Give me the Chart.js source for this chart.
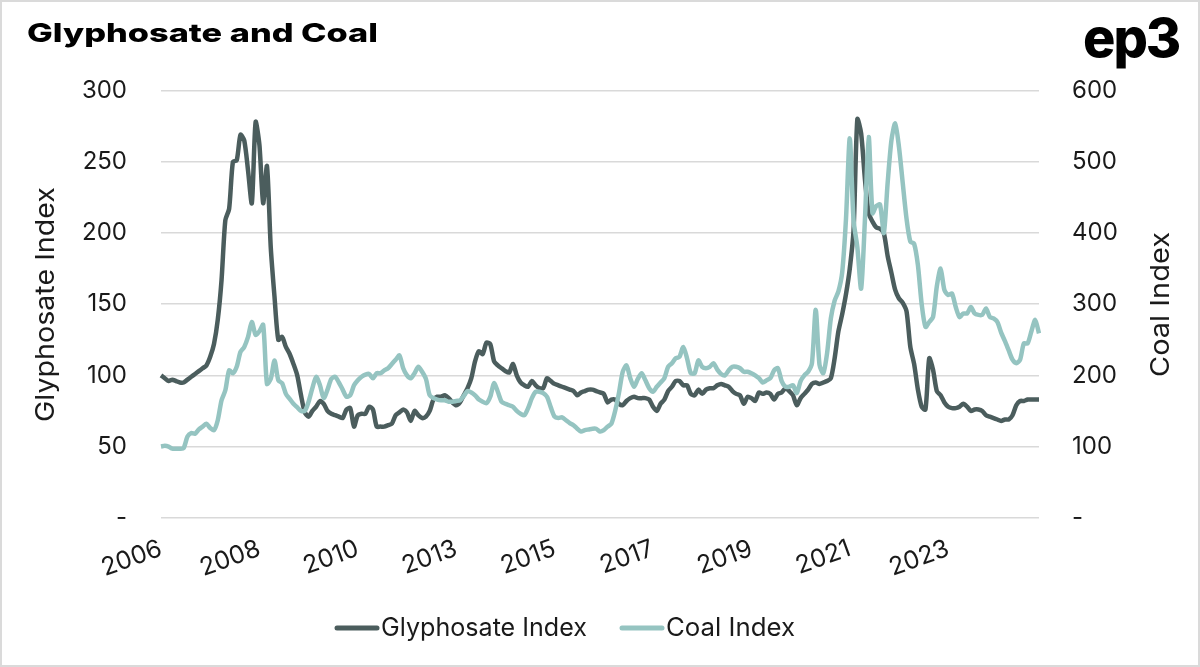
<!DOCTYPE html>
<html>
<head>
<meta charset="utf-8">
<script src="https://cdn.jsdelivr.net/npm/chart.js@4.4.1/dist/chart.umd.min.js"></script>
<style>
  html, body { margin: 0; padding: 0; background: #fff; }
  #wrap { position: relative; width: 1200px; height: 667px; }
  #frame { position: absolute; left: 0; top: 0; width: 1200px; height: 667px; box-sizing: border-box; border: 2px solid #dadada; pointer-events: none; }
  canvas { position: absolute; left: 0; top: 0; }
</style>
</head>
<body>
<div id="wrap">
  <canvas id="chart" width="1200" height="667"></canvas>
  <div id="frame"></div>
</div>
<script>
// monthly series, first point Jul 2006
const startYear = 2006;
const startMonth = 7;

const yearTicks = ['2006', '2008', '2010', '2013', '2015', '2017', '2019', '2021', '2023'];
const tickEvery = 26;

const glyphosate = [
  100, 98, 96, 97, 96, 95, 95, 97, 99, 101,
  103, 105, 107, 113, 122, 139, 167, 209, 217, 250,
  251, 269, 265, 244, 221, 278, 262, 221, 247, 190,
  155, 125, 127, 120, 115, 108, 100, 86, 74, 71,
  75, 78, 82, 80, 75, 73, 72, 71, 70, 76,
  77, 64, 72, 73, 73, 78, 76, 64, 64, 64,
  65, 66, 72, 74, 76, 74, 68, 75, 72, 70,
  71, 75, 83, 85, 85, 86, 84, 81, 79, 81,
  86, 91, 98, 110, 117, 115, 123, 122, 110, 107,
  105, 103, 102, 108, 100, 95, 93, 92, 96, 93,
  91, 91, 98, 96, 94, 93, 92, 91, 90, 89,
  86, 88, 89, 90, 90, 89, 88, 87, 81, 83,
  83, 80, 79, 82, 84, 85, 84, 84, 84, 83,
  78, 75, 80, 83, 89, 92, 96, 96, 93, 93,
  87, 86, 90, 87, 90, 91, 91, 93, 94, 93,
  92, 89, 87, 86, 80, 85, 84, 82, 88, 87,
  88, 87, 83, 87, 88, 91, 89, 86, 79, 84,
  87, 90, 94, 95, 94, 95, 96, 98, 112, 131,
  143, 157, 175, 202, 280, 270, 238, 214, 208, 204,
  203, 200, 184, 172, 160, 154, 151, 145, 120, 108,
  90, 78, 76, 112, 104, 89, 86, 81, 78, 77,
  77, 78, 80, 78, 75, 76, 76, 75, 72, 71,
  70, 69, 68, 69, 69, 72, 79, 82, 82, 83,
  83, 83, 83
];

const coal = [
  100, 101, 100, 97, 97, 97, 98, 114, 119, 118,
  124, 128, 132, 126, 123, 137, 165, 179, 207, 203,
  212, 233, 240, 254, 275, 257, 262, 271, 188, 195,
  221, 193, 189, 174, 167, 160, 155, 150, 150, 163,
  182, 198, 186, 168, 180, 195, 198, 190, 180, 170,
  172, 186, 193, 198, 201, 202, 196, 203, 203, 207,
  210, 216, 222, 228, 210, 200, 196, 203, 212, 205,
  195, 172, 168, 166, 165, 165, 163, 163, 164, 165,
  171, 178, 176, 172, 166, 163, 161, 170, 189, 177,
  163, 160, 158, 156, 150, 146, 144, 154, 168, 177,
  177, 175, 170, 155, 142, 140, 141, 137, 133, 130,
  125, 121, 123, 124, 125, 125, 121, 123, 128, 132,
  150, 175, 205, 214, 196, 184, 195, 203, 193, 182,
  177, 184, 190, 196, 212, 217, 224, 226, 240, 224,
  203, 203, 221, 212, 210, 212, 217, 208, 202, 200,
  207, 212, 212, 210, 205, 205, 203, 200, 196, 190,
  193, 196, 207, 210, 192, 184, 184, 186, 175, 192,
  200, 205, 217, 292, 215, 203, 231, 280, 305, 318,
  345, 420, 533, 418, 380, 322, 418, 535, 428, 438,
  440, 400, 470, 530, 554, 521, 470, 420, 388, 385,
  355, 300, 268, 275, 282, 325, 350, 320, 313, 315,
  296, 282, 287, 287, 296, 287, 285, 285, 294, 282,
  280, 275, 260, 248, 235, 222, 217, 222, 245, 245,
  262, 278, 259
];

const months = [];
for (let i = 0; i < glyphosate.length; i++) {
  const m = startMonth - 1 + i;
  months.push((startYear + Math.floor(m / 12)) + '-' + String(m % 12 + 1).padStart(2, '0'));
}

const glyColor = '#4b5d5d';
const coalColor = '#95c4c1';

// draw text stretched to the width it has in the picture
function fitText(ctx, txt, x, y, width, rot) {
  const w = ctx.measureText(txt).width;
  ctx.save();
  ctx.translate(x, y);
  if (rot) ctx.rotate(rot);
  ctx.scale(width / w, 1);
  ctx.fillText(txt, 0, 0);
  ctx.restore();
}

// titles, logo, axis titles and legend drawn straight on the canvas
const textPlugin = {
  id: 'texts',
  afterDraw(chart) {
    const ctx = chart.ctx;
    ctx.save();
    ctx.fillStyle = '#000';
    ctx.textBaseline = 'alphabetic';
    ctx.textAlign = 'left';

    ctx.font = '800 26px Inter';
    fitText(ctx, 'Glyphosate and Coal', 27, 42, 351);

    ctx.font = '800 54px Inter';
    ctx.letterSpacing = '-2px';
    ctx.fillText('ep3', 1083, 57);
    ctx.letterSpacing = '0px';

    ctx.fillStyle = '#1a1a1a';
    ctx.font = '400 26px Inter';
    // vertical titles, centred on the plot
    const wl = 235, wr = 145;
    fitText(ctx, 'Glyphosate Index', 54, 304.5 + wl / 2, wl, -Math.PI / 2);
    fitText(ctx, 'Coal Index', 1169, 304.5 + wr / 2, wr, -Math.PI / 2);

    // legend
    ctx.font = '400 25px Inter';
    ctx.lineCap = 'round';
    ctx.lineWidth = 5;
    const items = [
      { label: 'Glyphosate Index', color: glyColor, x: 337, w: 206 },
      { label: 'Coal Index', color: coalColor, x: 622, w: 129 }
    ];
    items.forEach(it => {
      ctx.strokeStyle = it.color;
      ctx.beginPath();
      ctx.moveTo(it.x, 628);
      ctx.lineTo(it.x + 40, 628);
      ctx.stroke();
      fitText(ctx, it.label, it.x + 44, 636, it.w);
    });
    ctx.restore();
  }
};

Chart.defaults.font.family = 'Inter';

new Chart(document.getElementById('chart'), {
  type: 'line',
  data: {
    labels: months,
    datasets: [
      {
        label: 'Glyphosate Index',
        data: glyphosate,
        yAxisID: 'y',
        borderColor: glyColor,
        backgroundColor: glyColor,
        borderWidth: 4.5,
        pointRadius: 0,
        tension: 0.25,
        order: 2
      },
      {
        label: 'Coal Index',
        data: coal,
        yAxisID: 'y1',
        borderColor: coalColor,
        backgroundColor: coalColor,
        borderWidth: 4.5,
        pointRadius: 0,
        tension: 0.25,
        order: 1
      }
    ]
  },
  options: {
    responsive: false,
    devicePixelRatio: 1,
    animation: false,
    layout: { padding: { top: 90.7, left: 0, right: 0, bottom: 0 } },
    plugins: {
      legend: { display: false },
      tooltip: { enabled: false }
    },
    scales: {
      x: {
        grid: { display: false },
        border: { display: false },
        ticks: {
          autoSkip: false,
          minRotation: 20,
          maxRotation: 20,
          padding: 8,
          color: '#1a1a1a',
          font: { size: 25 },
          callback: (v, i) => (i % tickEvery === 0 ? yearTicks[i / tickEvery] : '')
        },
        afterFit: s => { s.height = 667 - 517.7; }
      },
      y: {
        position: 'left',
        min: 0,
        max: 300,
        grid: { color: '#d9d9d9', lineWidth: 1.5, drawTicks: false },
        border: { display: false },
        ticks: {
          stepSize: 50,
          padding: 34,
          color: '#1a1a1a',
          font: { size: 24 },
          callback: v => (v === 0 ? '-' : v)
        },
        afterFit: s => { s.width = 161; }
      },
      y1: {
        position: 'right',
        min: 0,
        max: 600,
        grid: { display: false, drawTicks: false },
        border: { display: false },
        ticks: {
          stepSize: 100,
          padding: 33,
          color: '#1a1a1a',
          font: { size: 24 },
          callback: v => (v === 0 ? '-' : v)
        },
        afterFit: s => { s.width = 161; }
      }
    }
  },
  plugins: [textPlugin]
});
</script>
</body>
</html>
